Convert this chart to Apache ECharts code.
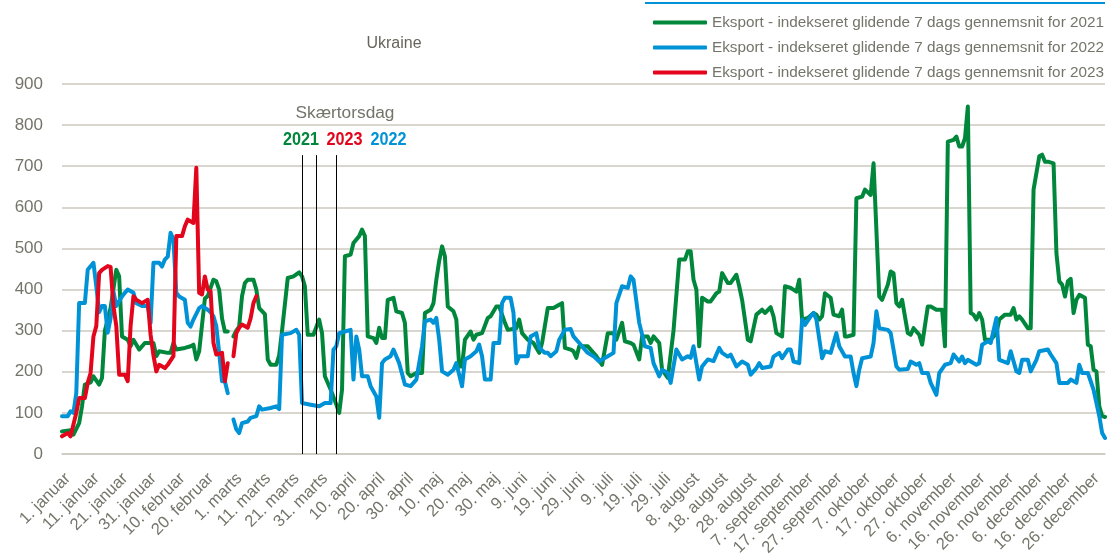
<!DOCTYPE html>
<html>
<head>
<meta charset="utf-8">
<script src="https://cdn.jsdelivr.net/npm/echarts@6/dist/echarts.min.js"></script>
<style>
  html, body { margin: 0; padding: 0; background: #fff; }
  #chart { width: 1107px; height: 560px; }
</style>
</head>
<body>
<div id="chart"></div>
<script>
// måneder (skudår, 29. februar er tom for alle år)
var monthNames = ['januar', 'februar', 'marts', 'april', 'maj', 'juni', 'juli', 'august', 'september', 'oktober', 'november', 'december']
var monthDays = [31, 29, 31, 30, 31, 30, 31, 31, 30, 31, 30, 31]
var days = []
monthNames.forEach(function(m, k) {
  for (var d = 1; d <= monthDays[k]; d++) days.push(d + '. ' + m)
})

var seriesNames = [
  'Eksport - indekseret glidende 7 dags gennemsnit for 2021',
  'Eksport - indekseret glidende 7 dags gennemsnit for 2022',
  'Eksport - indekseret glidende 7 dags gennemsnit for 2023'
]

// [dag-index, værdi]
var eksport2021 = [[0,55],[3,58],[4,47],[6,75],[7,116],[8,169],[10,174],[11,189],[13,169],[14,185],[15,300],[17,355],[19,448],[20,432],[21,286],[23,278],[24,262],[25,278],[27,254],[29,270],[32,270],[33,238],[34,250],[37,246],[38,246],[39,270],[40,254],[43,258],[45,262],[46,266],[47,230],[48,250],[50,378],[51,384],[53,424],[54,420],[55,400],[56,330],[57,298],[58,298],[59,null],[60,286],[61,300],[62,310],[63,384],[64,416],[65,424],[67,424],[68,400],[69,355],[71,340],[72,230],[73,217],[75,217],[76,240],[77,300],[79,428],[81,432],[83,442],[84,432],[85,408],[86,290],[88,290],[90,327],[91,294],[92,189],[94,157],[96,120],[97,100],[98,157],[99,481],[101,485],[102,513],[104,530],[105,546],[106,530],[107,286],[109,282],[110,270],[111,307],[112,282],[113,282],[114,375],[116,380],[117,347],[119,343],[120,319],[121,197],[122,189],[124,197],[126,197],[127,343],[129,351],[130,367],[131,424],[132,470],[133,505],[134,481],[135,359],[137,347],[138,327],[139,213],[140,213],[141,278],[143,298],[144,278],[145,290],[147,294],[149,331],[150,335],[152,359],[153,359],[155,319],[156,302],[159,306],[160,327],[161,294],[163,278],[165,270],[167,246],[168,270],[170,355],[172,355],[174,363],[175,367],[176,258],[178,254],[179,250],[180,234],[181,262],[184,262],[185,254],[187,238],[189,217],[191,294],[193,294],[194,278],[196,319],[197,274],[199,270],[200,266],[202,230],[203,286],[205,286],[206,270],[207,286],[209,270],[210,205],[212,185],[214,300],[216,473],[218,473],[219,493],[220,493],[221,424],[222,400],[223,262],[224,380],[226,371],[227,371],[229,391],[230,395],[231,440],[233,416],[234,416],[236,436],[237,408],[238,375],[240,278],[241,274],[243,339],[245,351],[246,343],[248,357],[249,335],[250,294],[252,286],[253,408],[255,404],[257,395],[258,424],[259,327],[261,331],[263,343],[264,339],[265,327],[266,335],[267,391],[269,380],[270,339],[272,335],[273,351],[274,286],[275,286],[277,290],[278,622],[280,626],[281,643],[283,630],[284,707],[286,383],[287,375],[289,412],[290,444],[291,440],[292,367],[293,359],[294,375],[296,294],[297,290],[298,306],[300,290],[301,266],[303,359],[304,359],[306,351],[308,351],[309,262],[310,760],[312,764],[313,772],[314,748],[315,748],[316,768],[317,845],[318,343],[319,339],[320,327],[321,343],[322,327],[323,278],[325,278],[327,294],[328,327],[330,339],[332,339],[333,355],[334,327],[335,335],[336,327],[338,306],[339,306],[340,643],[342,724],[343,728],[344,711],[345,711],[347,707],[348,489],[349,420],[350,412],[351,383],[352,420],[353,426],[354,343],[355,375],[356,387],[358,380],[359,266],[360,262],[361,205],[362,201],[363,116],[364,92],[365,90]]

var eksport2022 = [[0,92],[2,92],[3,104],[4,100],[5,148],[6,367],[8,367],[9,448],[11,465],[12,408],[13,345],[14,360],[15,360],[16,295],[17,330],[18,395],[19,360],[21,383],[22,392],[23,400],[25,392],[26,367],[28,360],[30,360],[31,319],[32,465],[34,465],[35,456],[36,473],[37,480],[38,538],[39,521],[40,392],[41,383],[43,375],[44,319],[45,310],[46,327],[48,355],[49,360],[51,351],[52,345],[53,335],[54,311],[55,246],[56,177],[57,177],[58,148],[59,null],[60,84],[61,60],[62,51],[63,75],[65,79],[66,88],[68,92],[69,116],[70,108],[73,112],[75,116],[76,109],[77,290],[80,294],[82,302],[83,290],[84,124],[87,120],[90,116],[92,124],[94,124],[95,254],[96,262],[97,294],[99,298],[101,302],[102,181],[103,286],[104,254],[105,189],[107,189],[108,165],[110,140],[111,88],[112,221],[113,230],[115,238],[116,254],[118,221],[120,169],[122,165],[124,181],[126,262],[127,323],[129,327],[130,319],[131,331],[132,278],[133,201],[135,193],[137,205],[138,221],[140,165],[141,230],[143,238],[145,250],[146,266],[147,238],[148,181],[150,181],[151,270],[153,270],[154,367],[155,380],[157,380],[158,343],[159,221],[160,238],[163,238],[164,286],[166,294],[167,258],[169,246],[170,246],[171,238],[173,250],[174,278],[176,302],[178,304],[179,286],[181,270],[183,254],[184,246],[186,238],[188,225],[189,230],[191,238],[193,246],[194,367],[196,408],[198,404],[199,432],[200,424],[202,319],[204,262],[206,258],[207,221],[209,189],[210,205],[212,197],[213,173],[215,254],[217,230],[219,238],[220,234],[221,262],[223,181],[224,213],[226,230],[228,226],[230,258],[231,246],[233,237],[234,242],[236,213],[238,225],[240,217],[241,193],[243,209],[244,221],[245,209],[248,213],[249,237],[251,246],[252,233],[254,254],[255,254],[256,225],[258,221],[259,327],[260,314],[262,335],[263,343],[264,327],[266,233],[267,250],[269,246],[271,294],[272,262],[274,237],[276,237],[277,197],[278,165],[279,205],[280,233],[283,237],[284,270],[285,347],[286,306],[289,302],[290,294],[292,213],[293,205],[296,207],[297,225],[299,217],[300,221],[301,197],[303,197],[304,173],[306,144],[307,197],[309,217],[311,221],[312,242],[314,225],[315,237],[316,221],[317,229],[318,225],[320,217],[321,221],[322,266],[324,274],[325,270],[327,331],[328,229],[331,221],[332,250],[334,201],[335,197],[336,229],[338,229],[339,201],[341,229],[342,250],[345,254],[346,242],[348,221],[349,173],[352,173],[353,181],[355,173],[356,217],[357,197],[359,197],[360,177],[361,156],[363,92],[364,51],[365,39]]

var eksport2023 = [[0,43],[2,51],[3,43],[5,100],[6,136],[8,136],[9,173],[10,197],[11,286],[12,311],[13,440],[14,448],[16,457],[17,455],[18,360],[19,311],[20,193],[22,193],[23,177],[24,311],[25,384],[26,375],[28,367],[30,375],[31,290],[32,240],[33,201],[34,217],[36,209],[37,217],[39,238],[40,530],[42,530],[43,554],[44,570],[46,562],[47,696],[48,392],[49,388],[50,432],[51,400],[52,396],[53,270],[54,242],[56,246],[57,177],[58,221],[59,null],[60,238],[61,294],[62,307],[63,315],[65,307],[66,330],[67,367],[68,384]]

// Skærtorsdag-streger (dag-index) og deres højde
var skaertorsdag = [84, 88.5, 96.3]
var skaertorsdagTop = 727

var colors = ['#00873c', '#0092d6', '#e3051b']
var gridColor = '#cbc9bf'
var textColor = '#74746a'
var fontFamily = 'Liberation Sans, Arial, sans-serif'

var myChart = echarts.init(document.getElementById('chart'))

function lineSeries(name, data, color) {
  return {
    name: name,
    type: 'line',
    data: data,
    showSymbol: false,
    connectNulls: false,
    animation: false,
    lineStyle: { width: 4, color: color, join: 'round', cap: 'round' },
    itemStyle: { color: color }
  }
}

var series = [
  lineSeries(seriesNames[0], eksport2021, colors[0]),
  lineSeries(seriesNames[1], eksport2022, colors[1]),
  lineSeries(seriesNames[2], eksport2023, colors[2])
]
series[2].markLine = {
  silent: true,
  symbol: 'none',
  label: { show: false },
  lineStyle: { color: '#000', width: 1, type: 'solid' },
  data: skaertorsdag.map(function(d) {
    return [{ coord: [d, 0] }, { coord: [d, skaertorsdagTop] }]
  })
}

var option = {
  animation: false,
  textStyle: { fontFamily: fontFamily },
  grid: { left: 62, right: 2, top: 84, bottom: 106, containLabel: false },
  legend: {
    orient: 'vertical',
    right: 3,
    top: 14,
    padding: 0,
    itemWidth: 54,
    itemHeight: 4,
    itemGap: 8,
    icon: 'roundRect',
    textStyle: { color: textColor, fontSize: 15.3, lineHeight: 17 },
    data: seriesNames
  },
  xAxis: {
    type: 'category',
    data: days,
    boundaryGap: false,
    axisTick: { show: false },
    axisLine: { lineStyle: { color: gridColor, width: 1.5 } },
    axisLabel: { interval: 9, rotate: 45, fontSize: 16.5, color: textColor, margin: 16, verticalAlign: 'top' },
    splitLine: { show: false }
  },
  yAxis: {
    type: 'value',
    min: 0,
    max: 900,
    interval: 100,
    axisLine: { show: false },
    axisTick: { show: false },
    axisLabel: { fontSize: 17, color: textColor, margin: 19 },
    splitLine: { lineStyle: { color: gridColor, width: 1.5 } }
  },
  graphic: [
    { type: 'line', shape: { x1: 645, y1: 3, x2: 1105, y2: 3 }, style: { stroke: '#0092d6', lineWidth: 2 } },
    { type: 'text', x: 394, y: 44, style: { text: 'Ukraine', fill: '#66665c', fontSize: 16, align: 'center', verticalAlign: 'middle', fontFamily: fontFamily } },
    { type: 'text', x: 345, y: 113, style: { text: 'Skærtorsdag', fill: textColor, fontSize: 17.3, align: 'center', verticalAlign: 'middle', fontFamily: fontFamily } },
    { type: 'text', x: 301, y: 140, scaleX: 0.9, style: { text: '2021', fill: colors[0], fontSize: 18, fontWeight: 'bold', align: 'center', verticalAlign: 'middle', fontFamily: fontFamily } },
    { type: 'text', x: 344.5, y: 140, scaleX: 0.9, style: { text: '2023', fill: colors[2], fontSize: 18, fontWeight: 'bold', align: 'center', verticalAlign: 'middle', fontFamily: fontFamily } },
    { type: 'text', x: 388.5, y: 140, scaleX: 0.9, style: { text: '2022', fill: colors[1], fontSize: 18, fontWeight: 'bold', align: 'center', verticalAlign: 'middle', fontFamily: fontFamily } }
  ],
  series: series
}
myChart.setOption(option)
</script>
</body>
</html>
